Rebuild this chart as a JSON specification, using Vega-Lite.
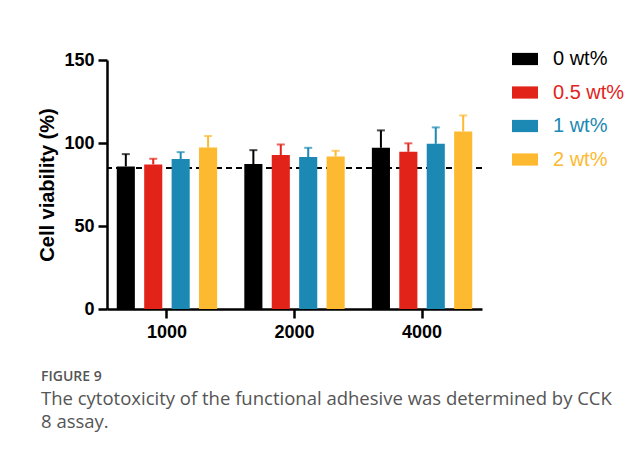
{
  "$schema": "https://vega.github.io/schema/vega-lite/v6.json",
  "width": 375,
  "height": 249,
  "autosize": {"type": "none"},
  "padding": {"left": 107, "top": 60, "right": 162, "bottom": 144},
  "background": "white",
  "title": {
    "text": "FIGURE 9",
    "subtitle": ["The cytotoxicity of the functional adhesive was determined by CCK", "8 assay."],
    "orient": "bottom",
    "anchor": "start",
    "frame": "group",
    "dx": -66,
    "offset": 29,
    "font": "Open Sans",
    "fontSize": 14,
    "fontWeight": 600,
    "color": "#555555",
    "subtitleFont": "Open Sans",
    "subtitleFontSize": 18.5,
    "subtitleColor": "#555555",
    "subtitleLineHeight": 23,
    "subtitlePadding": 6
  },
  "data": {
    "values": [
      {"conc": "1000", "group": "0 wt%", "value": 85.9, "upper": 93.3},
      {"conc": "1000", "group": "0.5 wt%", "value": 87.1, "upper": 90.5},
      {"conc": "1000", "group": "1 wt%", "value": 90.3, "upper": 94.5},
      {"conc": "1000", "group": "2 wt%", "value": 97.3, "upper": 104.2},
      {"conc": "2000", "group": "0 wt%", "value": 87.3, "upper": 95.7},
      {"conc": "2000", "group": "0.5 wt%", "value": 92.7, "upper": 99.1},
      {"conc": "2000", "group": "1 wt%", "value": 91.5, "upper": 97.1},
      {"conc": "2000", "group": "2 wt%", "value": 91.9, "upper": 95.3},
      {"conc": "4000", "group": "0 wt%", "value": 97.1, "upper": 107.6},
      {"conc": "4000", "group": "0.5 wt%", "value": 94.7, "upper": 99.8},
      {"conc": "4000", "group": "1 wt%", "value": 99.5, "upper": 109.4},
      {"conc": "4000", "group": "2 wt%", "value": 107.0, "upper": 116.6}
    ]
  },
  "encoding": {
    "x": {
      "field": "conc",
      "type": "nominal",
      "scale": {"paddingInner": 0.14, "paddingOuter": 0.04},
      "axis": {"title": null, "labelAngle": 0, "labelPadding": 5}
    },
    "xOffset": {
      "field": "group",
      "type": "nominal",
      "scale": {"domain": ["0 wt%", "0.5 wt%", "1 wt%", "2 wt%"], "paddingInner": 0.34, "paddingOuter": 0.17}
    }
  },
  "layer": [
    {
      "mark": {"type": "rule", "strokeWidth": 2},
      "encoding": {
        "y": {"field": "value", "type": "quantitative"},
        "y2": {"field": "upper"},
        "color": {"field": "group", "type": "nominal"}
      }
    },
    {
      "mark": {"type": "tick", "orient": "horizontal", "size": 8, "thickness": 2},
      "encoding": {
        "y": {"field": "upper", "type": "quantitative"},
        "color": {"field": "group", "type": "nominal"}
      }
    },
    {
      "mark": {"type": "rule", "strokeDash": [6, 4], "strokeWidth": 2, "color": "black"},
      "encoding": {"y": {"datum": 85}, "x": null, "xOffset": null}
    },
    {
      "mark": {"type": "bar"},
      "encoding": {
        "y": {
          "field": "value",
          "type": "quantitative",
          "scale": {"domain": [0, 150], "nice": false},
          "axis": {"title": "Cell viability (%)", "values": [0, 50, 100, 150], "titlePadding": 6, "labelPadding": 4}
        },
        "color": {
          "field": "group",
          "type": "nominal",
          "scale": {"domain": ["0 wt%", "0.5 wt%", "1 wt%", "2 wt%"], "range": ["#000000", "#e2231a", "#1b89b3", "#fdb92f"]},
          "legend": {
            "title": null,
            "orient": "none",
            "legendX": 405,
            "legendY": -14,
            "symbolType": "M-1,-0.47H1V0.47H-1Z",
            "symbolSize": 676,
            "symbolStrokeWidth": 0,
            "symbolOpacity": 1,
            "labelFont": "Liberation Sans",
            "labelFontSize": 20,
            "labelOffset": 15,
            "rowPadding": 10.5,
            "encode": {"labels": {"update": {"fill": {"scale": "color", "field": "value"}}}}
          }
        }
      }
    }
  ],
  "config": {
    "view": {"stroke": null},
    "axis": {
      "domainColor": "black",
      "domainWidth": 2.5,
      "tickColor": "black",
      "tickWidth": 2.5,
      "tickSize": 9,
      "grid": false,
      "labelFont": "Liberation Sans",
      "labelFontWeight": "bold",
      "labelFontSize": 18,
      "labelColor": "black",
      "titleFont": "Liberation Sans",
      "titleFontWeight": "bold",
      "titleFontSize": 20,
      "titleColor": "black"
    }
  }
}
